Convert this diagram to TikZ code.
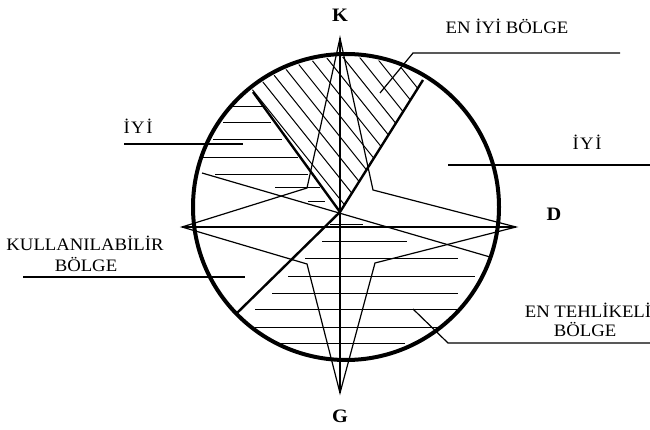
\documentclass[tikz,border=0pt]{standalone}
\usepackage{fontspec}
\setmainfont{Liberation Serif}[FakeStretch=1.07]
\begin{document}
\begin{tikzpicture}[x=1pt,y=-1pt,
  lbl/.style={font=\fontsize{17.5}{19}\selectfont, anchor=base, inner sep=0pt},
  dirlbl/.style={font=\fontsize{19}{21}\selectfont\bfseries, anchor=base, inner sep=0pt},
  rim/.style={line width=4pt},
  thickline/.style={line width=2.4pt},
  thinline/.style={line width=1.2pt},
  hatch/.style={line width=1pt},
  lead/.style={line width=1.2pt}]
\useasboundingbox[fill=white] (0,0) rectangle (650,430);

% key points
\coordinate (O) at (346,207);
\coordinate (C) at (340,212);
\coordinate (K) at (340,38);
\coordinate (G) at (340,393);
\coordinate (W) at (182,227);
\coordinate (E) at (516,227);
\coordinate (LU) at (307,188);
\coordinate (RU) at (373,190);
\coordinate (LL) at (307,264);
\coordinate (RL) at (375,263);
\coordinate (TL) at (253,92);
\coordinate (TR) at (423,80);
\coordinate (BL) at (237,313);
\coordinate (TW) at (202,173);
\coordinate (TE) at (490,257);

% diagonal hatching (EN IYI BOLGE)
\begin{scope}
  \clip (O) circle[radius=150];
  \clip (C) -- (209,32) -- (465,14) -- cycle;
  \foreach \t in {8,21,...,140}
    \draw[hatch] ({340+0.78*\t-156},{212-0.625*\t-195}) -- ({340+0.78*\t+156},{212-0.625*\t+195});
\end{scope}

% horizontal hatching, upper left
\foreach \a/\b/\y in {233/262/107, 223/271/123, 213/282/140, 203/298/158,
                      215/308/175, 275/320/188, 308/325/202}
  \draw[hatch] (\a,\y) -- (\b,\y);

% horizontal hatching, lower
\foreach \a/\b/\y in {330/363/225, 322/407/242, 305/458/259, 288/475/276,
                      272/458/293, 255/457/309, 255/438/327, 280/405/343}
  \draw[hatch] (\a,\y) -- (\b,\y);

% compass star
\draw[thinline, line join=miter] (K) -- (RU) -- (E) -- (RL) -- (G) -- (LL) -- (W) -- (LU) -- cycle;
\draw[thinline] (K) -- (G);
\draw[thinline] (W) -- (E);
\draw[thinline] (TW) -- (TE);

% zone boundaries
\draw[thickline] (TL) -- (C);
\draw[thickline, line join=miter] (TR) -- (C) -- (BL);

% circle
\draw[rim] (O) circle[radius=153];

% leaders
\coordinate (a1) at (380,93); \coordinate (a2) at (413,53); \coordinate (a3) at (620,53);
\draw[lead] (a1) -- (a2) -- (a3);
\coordinate (b1) at (448,165); \coordinate (b2) at (650,165);
\draw[lead] (b1) -- (b2);
\coordinate (c1) at (124,144); \coordinate (c2) at (243,144);
\draw[lead] (c1) -- (c2);
\coordinate (d1) at (23,277); \coordinate (d2) at (245,277);
\draw[lead] (d1) -- (d2);
\coordinate (e1) at (413,309); \coordinate (e2) at (448,343); \coordinate (e3) at (650,343);
\draw[lead] (e1) -- (e2) -- (e3);

% labels
\node[dirlbl] (lk) at (340,22) {K};
\node[dirlbl] (ld) at (554,221) {D};
\node[dirlbl] (lg) at (340,422) {G};
\node[lbl] (enbest) at (507,34) {EN İYİ BÖLGE};
\node[lbl] (goodl) at (138,134) {İ\hspace{1.5pt}Y\hspace{1.5pt}İ};
\node[lbl] (goodr) at (587,150) {İ\hspace{1.5pt}Y\hspace{1.5pt}İ};
\node[lbl] (use1) at (85,251) {KULLANILABİLİR};
\node[lbl] (use2) at (86,271) {BÖLGE};
\node[lbl] (dang1) at (588,317) {EN TEHLİKELİ};
\node[lbl] (dang2) at (585,336) {BÖLGE};
\end{tikzpicture}
\end{document}
